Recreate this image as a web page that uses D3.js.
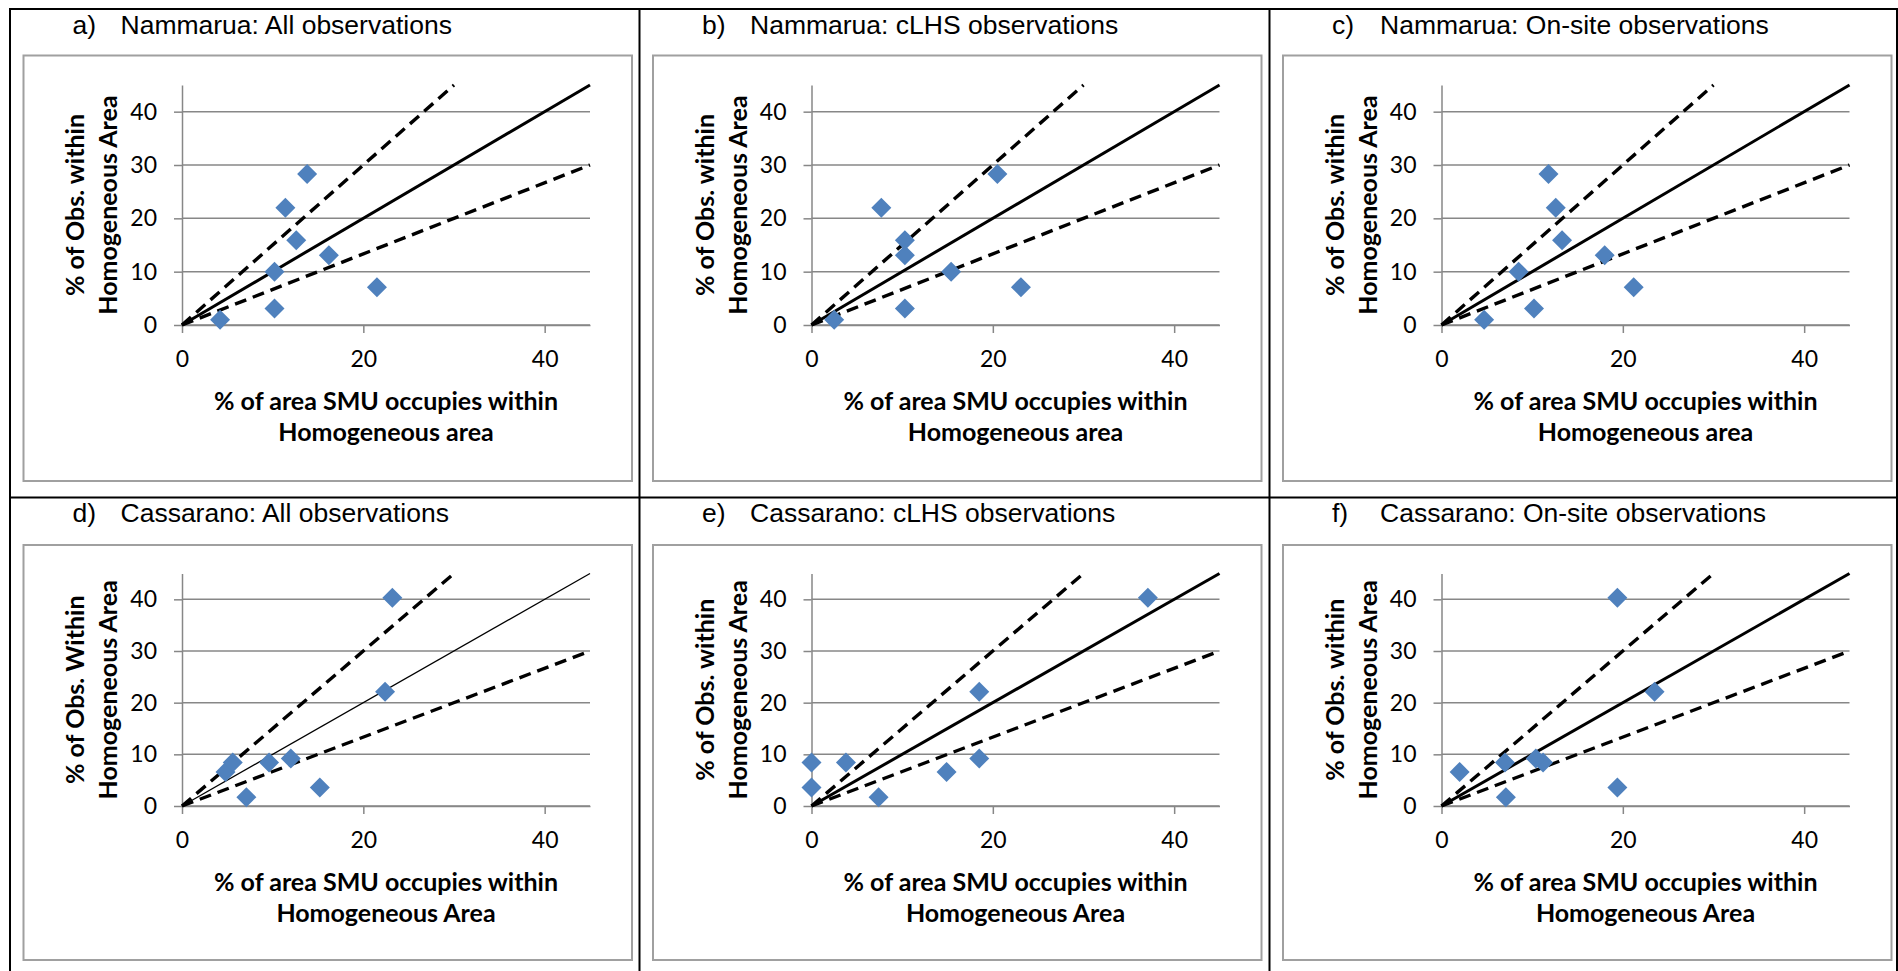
<!DOCTYPE html>
<html>
<head>
<meta charset="utf-8">
<script src="https://cdn.jsdelivr.net/npm/d3@7"></script>
<style>
  html, body { margin: 0; padding: 0; background: #fff; }
  svg { display: block; }
</style>
</head>
<body>
<svg id="fig" width="1898" height="971"></svg>
<script>
// ---- Panel texts ----
const panelLetters = ["a)", "b)", "c)", "d)", "e)", "f)"];
const panelTitles = [
  "Nammarua: All observations",
  "Nammarua: cLHS observations",
  "Nammarua: On-site observations",
  "Cassarano: All observations",
  "Cassarano: cLHS observations",
  "Cassarano: On-site observations"
];
const yTitleTop = [
  "% of Obs. within", "% of Obs. within", "% of Obs. within",
  "% of Obs. Within", "% of Obs. within", "% of Obs. within"
];
const yTitleBottom = [
  "Homogeneous Area", "Homogeneous Area", "Homogeneous Area",
  "Homogeneous Area", "Homogeneous Area", "Homogeneous Area"
];
const xTitleTop = [
  "% of area SMU occupies within", "% of area SMU occupies within", "% of area SMU occupies within",
  "% of area SMU occupies within", "% of area SMU occupies within", "% of area SMU occupies within"
];
const xTitleBottom = [
  "Homogeneous area", "Homogeneous area", "Homogeneous area",
  "Homogeneous Area", "Homogeneous Area", "Homogeneous Area"
];

// ---- Axes ----
const xTicks = [0, 20, 40];
const yTicks = [0, 10, 20, 30, 40];
const axisMax = 45;

// ---- Observations (% of obs. within homogeneous area, y) ----
const nammaruaObsPct = [1.0, 3.1, 7.1, 10.0, 13.1, 15.9, 22.0, 28.3];
const cassaranoObsPct = [1.7, 3.6, 6.6, 8.4, 8.4, 9.2, 22.1, 40.3];

// ---- % of area each SMU occupies (x), matched to the y arrays above ----
const nammaruaAllArea    = [4.2, 10.2, 21.5, 10.2, 16.2, 12.6, 11.4, 13.8];
const nammaruaClhsArea   = [2.5, 10.3, 23.1, 15.4, 10.3, 10.3, 7.7, 20.5];
const nammaruaOnsiteArea = [4.7, 10.2, 21.2, 8.5, 18.0, 13.3, 12.6, 11.8];
const cassaranoAllArea    = [7.1, 15.2, 4.8, 5.6, 9.6, 12.0, 22.4, 23.2];
const cassaranoClhsArea   = [7.4, 0.0, 14.9, 0.0, 3.8, 18.5, 18.5, 37.1];
const cassaranoOnsiteArea = [7.1, 19.4, 2.0, 7.0, 11.2, 10.4, 23.5, 19.4];

// ---- Reference lines: 1:1 and the +/-50 % bounds ----
const refSlopes = [1, 1.5, 1 / 1.5];
const refDashed = [false, true, true];

const panelX = [nammaruaAllArea, nammaruaClhsArea, nammaruaOnsiteArea,
                cassaranoAllArea, cassaranoClhsArea, cassaranoOnsiteArea];
const panelY = [nammaruaObsPct, nammaruaObsPct, nammaruaObsPct,
                cassaranoObsPct, cassaranoObsPct, cassaranoObsPct];

// ---- Layout ----
const colLeft = [10, 639.5, 1269.5];
const rowsLayout = [
  { top: 9,     areaTop: 55.5, areaBottom: 481, yZero: 325, yMax: 85 },
  { top: 497.5, areaTop: 545,  areaBottom: 960, yZero: 806, yMax: 573.5 }
];

const svg = d3.select("#fig");
const axisFont = "Lato, 'Open Sans', sans-serif";
const titleFont = "'Liberation Sans', Arial, sans-serif";
const gridColor = "#878787";
const markColor = "#4F81BD";

// Table rules separating the panels
const rules = svg.append("g").attr("stroke", "#000").attr("stroke-width", 2);
[10, 639.5, 1269.5, 1897].forEach(x =>
  rules.append("line").attr("x1", x).attr("x2", x).attr("y1", 8).attr("y2", 971));
[9, 497.5].forEach(y =>
  rules.append("line").attr("x1", 9).attr("x2", 1898).attr("y1", y).attr("y2", y));

panelTitles.forEach((title, i) => {
  const col = i % 3, row = Math.floor(i / 3);
  const L = colLeft[col], R = rowsLayout[row];
  const g = svg.append("g");

  // panel caption
  g.append("text")
    .attr("x", L + 62.5).attr("y", R.top + 24.5)
    .attr("font-family", titleFont).attr("font-size", 26.5).attr("fill", "#000")
    .text(panelLetters[i]);
  g.append("text")
    .attr("x", L + 110.5).attr("y", R.top + 24.5)
    .attr("font-family", titleFont).attr("font-size", 26.5).attr("fill", "#000")
    .text(title);

  // chart area frame
  g.append("rect")
    .attr("x", L + 13.5).attr("y", R.areaTop)
    .attr("width", 608.5).attr("height", R.areaBottom - R.areaTop)
    .attr("fill", "#fff").attr("stroke", "#a0a0a0").attr("stroke-width", 2);

  const x0 = L + 172;
  const x = d3.scaleLinear().domain([0, axisMax]).range([x0, x0 + 408]);
  const y = d3.scaleLinear().domain([0, axisMax]).range([R.yZero, R.yMax]);

  // horizontal gridlines
  g.append("g").selectAll("line").data(yTicks).join("line")
    .attr("x1", x(0)).attr("x2", x(axisMax))
    .attr("y1", d => y(d)).attr("y2", d => y(d))
    .attr("stroke", gridColor).attr("stroke-width", 1.5);

  const yAxis = g.append("g").attr("transform", `translate(${x(0)},0)`)
    .call(d3.axisLeft(y).tickValues(yTicks).tickSize(8).tickSizeOuter(0).tickPadding(17));
  const xAxis = g.append("g").attr("transform", `translate(0,${y(0)})`)
    .call(d3.axisBottom(x).tickValues(xTicks).tickSize(8).tickSizeOuter(0).tickPadding(18));
  [yAxis, xAxis].forEach(a => {
    a.selectAll("path, line").attr("stroke", gridColor).attr("stroke-width", 1.5);
    a.selectAll("text").attr("font-family", axisFont).attr("font-size", 23).attr("fill", "#000");
  });

  // reference lines
  refSlopes.forEach((s, k) => {
    const xEnd = Math.min(axisMax, axisMax / s);
    g.append("line")
      .attr("x1", x(0)).attr("y1", y(0))
      .attr("x2", x(xEnd)).attr("y2", y(xEnd * s))
      .attr("stroke", "#000")
      .attr("stroke-width", refDashed[k] ? 3.4 : (i === 3 ? 1.3 : 3))
      .attr("stroke-dasharray", refDashed[k] ? "12,7" : null);
  });

  // observations as diamonds
  const pts = panelX[i].map((v, k) => [v, panelY[i][k]]);
  g.append("g").selectAll("path").data(pts).join("path")
    .attr("d", d3.symbol(d3.symbolSquare, 200)())
    .attr("transform", d => `translate(${x(d[0])},${y(d[1])}) rotate(45)`)
    .attr("fill", markColor);

  // axis titles
  const cx = (x(0) + x(axisMax)) / 2;
  const cy = (y(0) + y(axisMax)) / 2;
  [[xTitleTop[i], 76], [xTitleBottom[i], 107.5]].forEach(([t, off]) => {
    g.append("text")
      .attr("x", cx).attr("y", y(0) + off).attr("dy", "0.35em")
      .attr("text-anchor", "middle")
      .attr("font-family", axisFont).attr("font-weight", "bold").attr("font-size", 25)
      .attr("fill", "#000").text(t);
  });
  [[yTitleTop[i], L + 65.5], [yTitleBottom[i], L + 98.5]].forEach(([t, px]) => {
    g.append("text")
      .attr("transform", `translate(${px},${cy}) rotate(-90)`)
      .attr("dy", "0.35em")
      .attr("text-anchor", "middle")
      .attr("font-family", axisFont).attr("font-weight", "bold").attr("font-size", 25)
      .attr("fill", "#000").text(t);
  });
});
</script>
</body>
</html>
